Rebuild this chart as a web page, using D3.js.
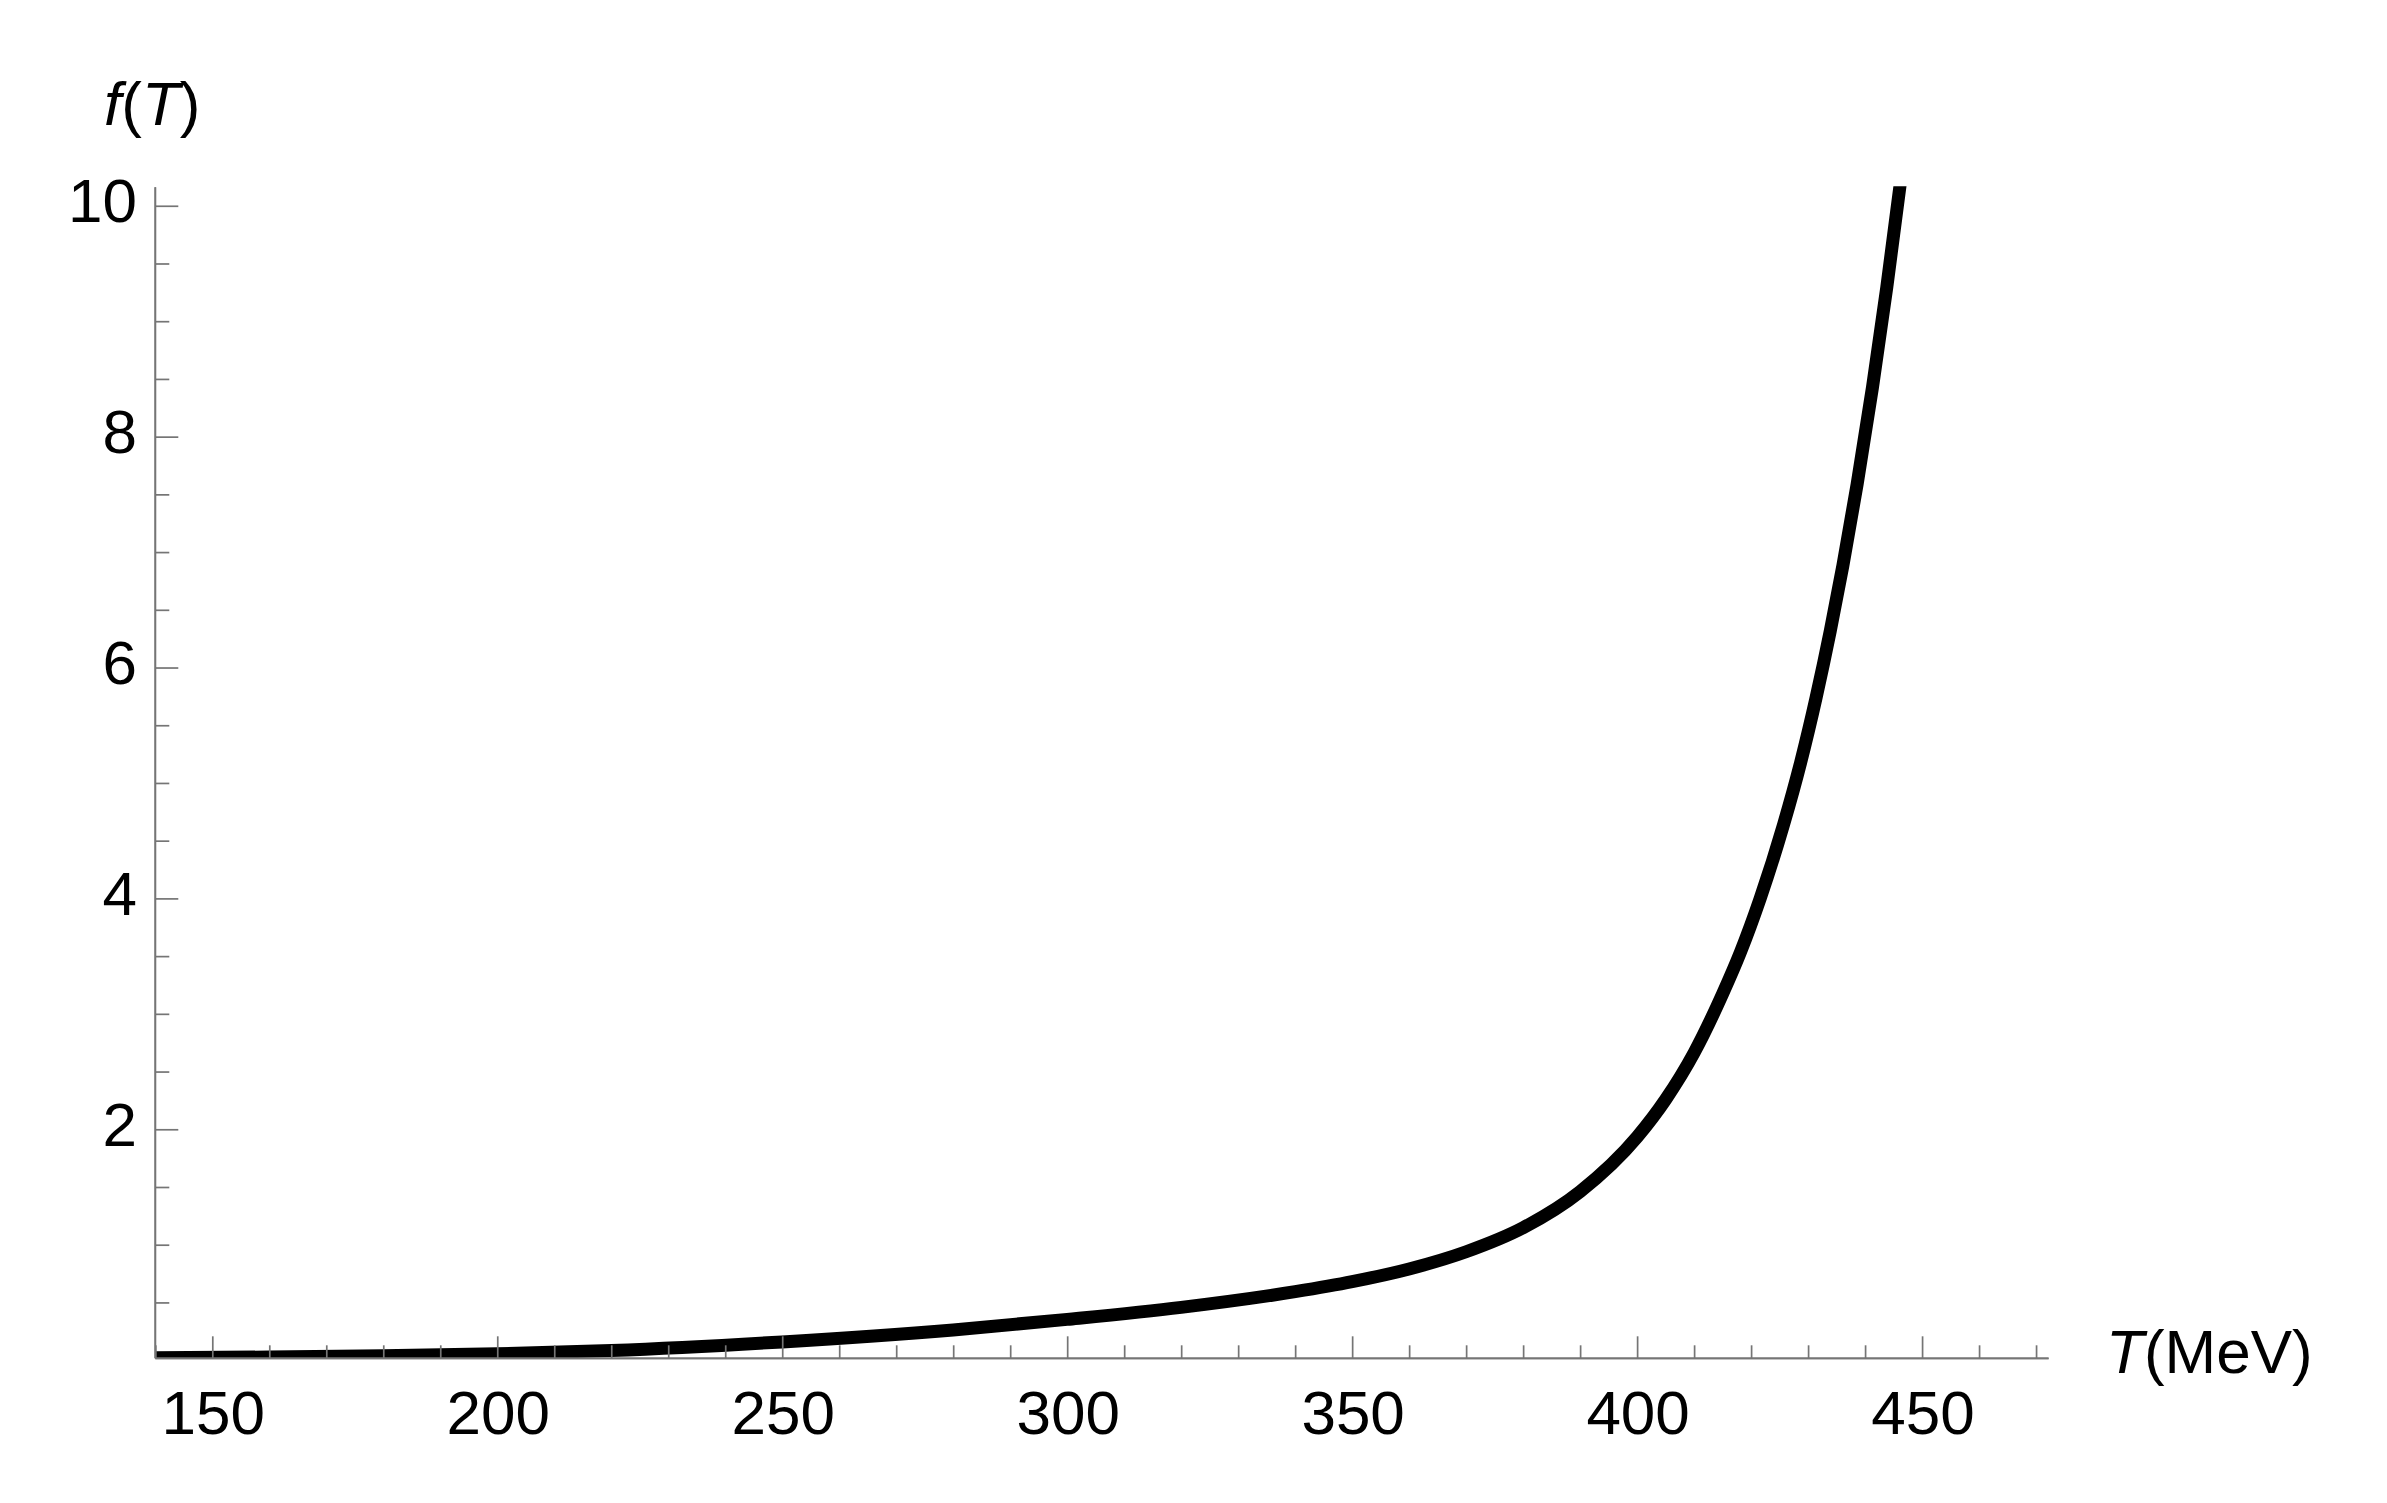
<!DOCTYPE html>
<html>
<head>
<meta charset="utf-8">
<script src="https://cdn.jsdelivr.net/npm/d3@7"></script>
<style>
  html, body { margin: 0; padding: 0; background: #fff; }
  text { font-family: "Liberation Sans", Arial, sans-serif; }
</style>
</head>
<body>
<svg id="chart" width="2387" height="1503"></svg>
<script>
// ---- data ----
const temperatures = [140, 160, 180, 200, 220, 250, 280, 300, 320, 340, 350, 360, 370, 380, 390, 400,
                      405, 410, 415, 418.1, 421.6, 425.7, 428.7, 431.4, 433.9, 436.1, 438.6, 441.3, 443.8, 446.1, 447];
const fValues     = [0.02, 0.027, 0.038, 0.055, 0.083, 0.158, 0.262, 0.353, 0.457, 0.593, 0.68, 0.79, 0.939, 1.147, 1.46, 1.933,
                      2.258, 2.663, 3.173, 3.53, 4.0, 4.64, 5.179, 5.738, 6.318, 6.881, 7.586, 8.428, 9.291, 10.163, 10.53];
const xMajorTicks = [150, 200, 250, 300, 350, 400, 450];
const yMajorTicks = [2, 4, 6, 8, 10];
const xLabel = "(MeV)";

// ---- layout ----
const W = 2387, H = 1503;
const x0 = 155.3, x1 = 2048.6, yTop = 187.3, yBot = 1358.3;
const x = d3.scaleLinear().domain([140, 472.2]).range([x0, x1]);
const y = d3.scaleLinear().domain([0.016, 10.16]).range([yBot, yTop]);

const svg = d3.select("#chart");
svg.append("rect").attr("width", W).attr("height", H).attr("fill", "#fff");

svg.append("defs").append("clipPath").attr("id", "plotclip")
  .append("rect").attr("x", x0).attr("y", yTop - 1).attr("width", x1 - x0).attr("height", yBot - yTop + 1);

const data = temperatures.map((t, i) => ({t, v: fValues[i]}));
const line = d3.line().x(d => x(d.t)).y(d => y(d.v)).curve(d3.curveMonotoneX);

svg.append("path")
  .datum(data)
  .attr("clip-path", "url(#plotclip)")
  .attr("d", line)
  .attr("fill", "none")
  .attr("stroke", "#000")
  .attr("stroke-width", 13)
  .attr("stroke-linejoin", "round");

const axisColor = "#757575";
const axisW = 1.7;

// x axis
const xMinor = d3.range(140, 471, 10).filter(t => !xMajorTicks.includes(t));
const gx = svg.append("g").attr("transform", `translate(0,${yBot})`);
gx.append("g").call(d3.axisTop(x).tickValues(xMinor).tickSize(13).tickFormat("").tickSizeOuter(0));
gx.append("g").call(d3.axisTop(x).tickValues(xMajorTicks).tickSize(22).tickFormat("").tickSizeOuter(0));
gx.selectAll(".domain").attr("stroke", axisColor).attr("stroke-width", axisW).attr("d", `M${x0},0H${x1}`);
gx.selectAll(".tick line").attr("stroke", axisColor).attr("stroke-width", axisW);

svg.append("g").selectAll("text").data(xMajorTicks).join("text")
  .attr("x", d => x(d) + 1).attr("y", yBot + 76)
  .attr("text-anchor", "middle").attr("font-size", 62).attr("fill", "#000")
  .text(d => d);

// y axis
const yMinor = d3.range(0.5, 10.01, 0.5).filter(v => !yMajorTicks.includes(v));
const gy = svg.append("g").attr("transform", `translate(${x0},0)`);
gy.append("g").call(d3.axisRight(y).tickValues(yMinor).tickSize(14).tickFormat("").tickSizeOuter(0));
gy.append("g").call(d3.axisRight(y).tickValues(yMajorTicks).tickSize(23).tickFormat("").tickSizeOuter(0));
gy.selectAll(".domain").attr("stroke", axisColor).attr("stroke-width", axisW).attr("d", `M0,${yBot}V${yTop}`);
gy.selectAll(".tick line").attr("stroke", axisColor).attr("stroke-width", axisW);

svg.append("g").selectAll("text").data(yMajorTicks).join("text")
  .attr("x", 137).attr("y", d => y(d) + 16.4)
  .attr("text-anchor", "end").attr("font-size", 62).attr("fill", "#000")
  .text(d => d);

// axis labels
const yl = svg.append("text").attr("x", 104).attr("y", 125).attr("font-size", 62).attr("fill", "#000");
yl.append("tspan").attr("font-style", "italic").text("f");
yl.append("tspan").text("(");
yl.append("tspan").attr("font-style", "italic").text("T");
yl.append("tspan").text(")");

const xl = svg.append("text").attr("x", 2106).attr("y", 1373).attr("font-size", 62).attr("fill", "#000");
xl.append("tspan").attr("font-style", "italic").text("T");
xl.append("tspan").text(xLabel);
</script>
</body>
</html>
